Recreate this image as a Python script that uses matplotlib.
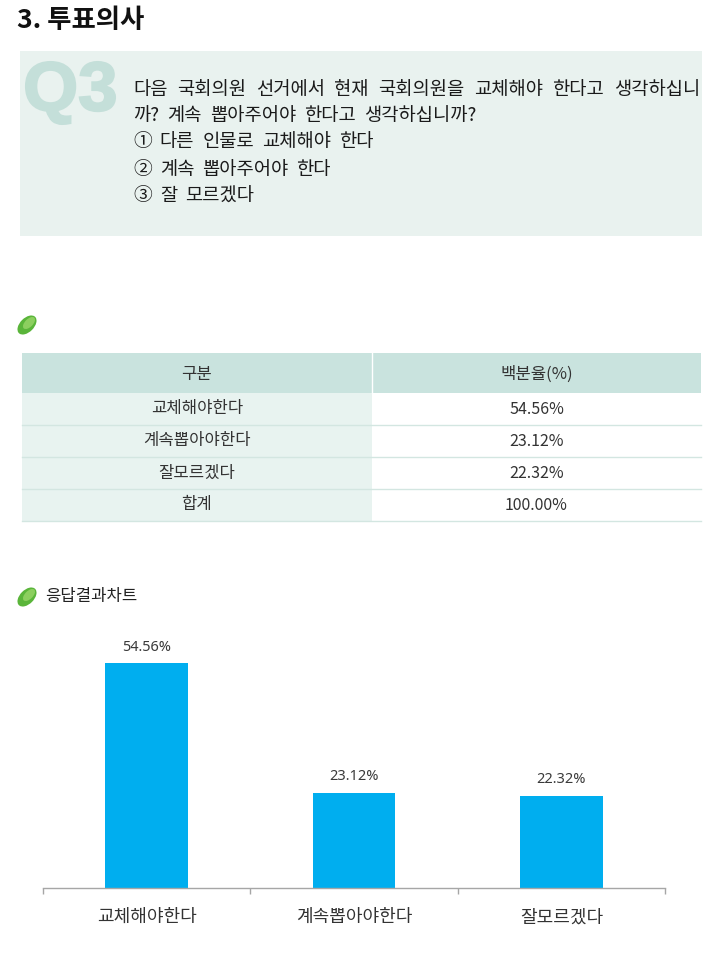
import matplotlib
matplotlib.use('Agg')
import matplotlib.pyplot as plt
from matplotlib.patches import Rectangle, Ellipse, PathPatch
from matplotlib.textpath import TextPath
from matplotlib.font_manager import FontProperties
from matplotlib.transforms import Affine2D

plt.rcParams['font.family'] = ['Noto Sans CJK KR', 'DejaVu Sans']

# --- 데이터 ---
SECTION_TITLE = '3. 투표의사'
Q_LABEL = 'Q3'
QUESTION_LINES = [
    '다음 국회의원 선거에서 현재 국회의원을 교체해야 한다고 생각하십니',
    '까? 계속 뽑아주어야 한다고 생각하십니까?',
    '① 다른 인물로 교체해야 한다',
    '② 계속 뽑아주어야 한다',
    '③ 잘 모르겠다',
]
TABLE_HEADER = ['구분', '백분율(%)']
categories = ['교체해야한다', '계속뽑아야한다', '잘모르겠다']
percentages = [54.56, 23.12, 22.32]
TOTAL_LABEL = '합계'
CHART_TITLE = '응답결과차트'

W, H = 720, 961
fig = plt.figure(figsize=(W / 100, H / 100), dpi=100)

# 배경용 축 (1 데이터 단위 = 1 픽셀, 위에서 아래로)
bg = fig.add_axes([0, 0, 1, 1], zorder=0)
bg.set_xlim(0, W)
bg.set_ylim(H, 0)
bg.axis('off')

renderer = fig.canvas.get_renderer()


def draw_words(line, x0, y, size, gap, justify_to=None):
    words = line.split(' ')
    texts = []
    widths = []
    for w in words:
        t = bg.text(0, y, w, fontsize=size, color='#1a1a1a', va='center', ha='left')
        widths.append(t.get_window_extent(renderer).width)
        texts.append(t)
    if justify_to is not None and len(words) > 1:
        gap = (justify_to - x0 - sum(widths)) / (len(words) - 1)
    x = x0
    for t, wd in zip(texts, widths):
        t.set_x(x)
        x += wd + gap


def draw_leaf(cx, cy):
    bg.add_patch(Ellipse((cx, cy), 23, 14, angle=-45, facecolor='#5ab53a', edgecolor='none'))
    bg.add_patch(Ellipse((cx + 2, cy - 2), 15, 8, angle=-45, facecolor='#8ccf5f', edgecolor='none'))


# 제목
bg.text(17, 21, SECTION_TITLE, fontsize=19, fontweight='bold', color='#111111', va='center')

# 질문 박스
bg.add_patch(Rectangle((20, 51), 682, 185, facecolor='#e9f2ef', edgecolor='none'))
qpath = TextPath((0, 0), Q_LABEL, size=100,
                 prop=FontProperties(family='Liberation Sans', weight='bold'))
ext = qpath.get_extents()
sx = (115 - 26) / ext.width
sy = (124 - 62) / ext.height
tr = Affine2D().translate(-ext.x0, -ext.y0).scale(sx, -sy).translate(26, 124) + bg.transData
bg.add_patch(PathPatch(qpath, facecolor='#c4dfd9', edgecolor='#c4dfd9', lw=1.5, transform=tr))

line_y = [90, 116, 142, 169, 196]
for i, (line, y) in enumerate(zip(QUESTION_LINES, line_y)):
    draw_words(line, 133, y, 13.5, 8, justify_to=700 if i == 0 else None)

# 표
draw_leaf(27, 325)
tx0, tx1, tdiv = 22, 701, 372
bg.add_patch(Rectangle((tx0, 353), tx1 - tx0, 40, facecolor='#c9e3de', edgecolor='none'))
bg.plot([tdiv, tdiv], [353, 393], color='white', lw=1)
bg.text((tx0 + tdiv) / 2, 374, TABLE_HEADER[0], fontsize=12, color='#333333', ha='center', va='center')
bg.text((tdiv + tx1) / 2, 374, TABLE_HEADER[1], fontsize=12, color='#333333', ha='center', va='center')

rows = list(zip(categories, [f'{p:.2f}%' for p in percentages]))
rows.append((TOTAL_LABEL, f'{sum(percentages):.2f}%'))
row_h = 32
for i, (name, val) in enumerate(rows):
    top = 393 + i * row_h
    bg.add_patch(Rectangle((tx0, top), tdiv - tx0, row_h, facecolor='#e8f3f0', edgecolor='none'))
    bg.plot([tx0, tx1], [top + row_h, top + row_h], color='#d3e6e1', lw=1)
    bg.text((tx0 + tdiv) / 2, top + row_h / 2, name, fontsize=12, color='#333333', ha='center', va='center')
    bg.text((tdiv + tx1) / 2, top + row_h / 2, val, fontsize=11.5, color='#333333', ha='center', va='center')

# 차트 제목
draw_leaf(27, 597)
bg.text(45, 597, CHART_TITLE, fontsize=12, color='#222222', va='center')

# --- 막대 차트 ---
ax_left, ax_right, ax_base = 43, 665, 888
px_per_unit = (ax_base - 663) / percentages[0]
ymax = 60
ax = fig.add_axes([ax_left / W, (H - ax_base) / H, (ax_right - ax_left) / W,
                   ymax * px_per_unit / H], zorder=1)
ax.patch.set_alpha(0)
x = list(range(len(categories)))
ax.bar(x, percentages, width=0.4, color='#00aeef', zorder=2)
ax.set_xlim(-0.5, len(categories) - 0.5)
ax.set_ylim(0, ymax)
for s in ['top', 'left', 'right']:
    ax.spines[s].set_visible(False)
ax.spines['bottom'].set_color('#a6a6a6')
ax.spines['bottom'].set_linewidth(1)
ax.set_yticks([])
ax.set_xticks([i - 0.5 for i in range(len(categories) + 1)])
ax.set_xticklabels([])
ax.tick_params(axis='x', length=4.5, width=1, color='#a6a6a6', direction='out')

for i, (cat, v) in enumerate(zip(categories, percentages)):
    ax.annotate(f'{v:.2f}%', xy=(i, v), xytext=(0, 11.5), textcoords='offset points',
                ha='center', va='center', fontsize=10.5, color='#3a3a3a',
                family=['Noto Sans', 'DejaVu Sans'], annotation_clip=False)
    ax.annotate(cat, xy=(i, 0), xytext=(0, -21), textcoords='offset points',
                ha='center', va='center', fontsize=13, color='#333333', annotation_clip=False)

fig.savefig('out.png', dpi=100)
